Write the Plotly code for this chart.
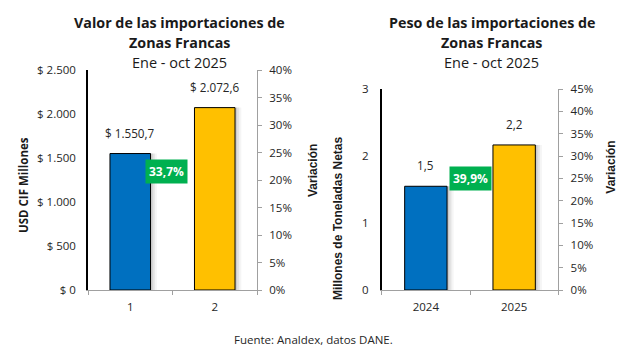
import plotly.graph_objects as go

# ---- data ----
cats_valor = ["1", "2"]
valor_usd = [1550.7, 2072.6]
var_valor = 0.337

cats_peso = ["2024", "2025"]
peso_ton = [1.548, 2.165]
var_peso = 0.399

colors = ["#0070C0", "#FFC000"]
FONT = "Open Sans"
ARIAL = "Liberation Sans, Arial"
W, H = 630, 355
OFF = 8  # page body margin


def px(x):
    return (x - OFF) / W


def py(y):
    return 1 - (y - OFF) / H


def es_num(v, dec):
    s = f"{v:,.{dec}f}"
    return s.replace(",", "X").replace(".", ",").replace("X", ".")


fig = go.Figure()

# shadows + bars
for xa, ya, cats, vals in [("x", "y", cats_valor, valor_usd), ("x2", "y3", cats_peso, peso_ton)]:
    for k, a in enumerate([0.10, 0.07, 0.04]):
        fig.add_trace(go.Bar(x=cats, y=vals, xaxis=xa, yaxis=ya, width=0.48,
                             offset=-0.24 + 0.025 + 0.025 * k,
                             marker=dict(color=f"rgba(0,0,0,{a})", line=dict(width=0)),
                             hoverinfo="skip", showlegend=False))
    fig.add_trace(go.Bar(x=cats, y=vals, xaxis=xa, yaxis=ya, width=0.48, offset=-0.24,
                         marker=dict(color=colors, line=dict(color="#000000", width=1)),
                         showlegend=False))

# invisible traces for secondary axes
fig.add_trace(go.Scatter(x=[cats_valor[1]], y=[var_valor], xaxis="x", yaxis="y2", mode="markers",
                         marker=dict(opacity=0), hoverinfo="skip", showlegend=False))
fig.add_trace(go.Scatter(x=[cats_peso[1]], y=[var_peso], xaxis="x2", yaxis="y4", mode="markers",
                         marker=dict(opacity=0), hoverinfo="skip", showlegend=False))

tick_font = dict(family=FONT, size=11.5, color="#262626")
gray = "#A0A0A0"
common = dict(automargin=False, showgrid=False, fixedrange=True)

fig.update_layout(
    width=W, height=H, margin=dict(l=0, r=0, t=0, b=0, pad=0, autoexpand=False),
    paper_bgcolor="white", plot_bgcolor="white",
    barmode="overlay", separators=",.",
    font=dict(family=FONT, color="#262626"),
    xaxis=dict(domain=[px(88), px(257)], anchor="y", type="category", range=[-0.5, 1.5],
               showline=True, linecolor=gray, linewidth=1, ticks="outside", tickson="boundaries",
               ticklen=4, tickcolor=gray, tickfont=tick_font, ticklabelstandoff=6, **common),
    yaxis=dict(domain=[py(290), py(70)], anchor="x", range=[0, 2500], dtick=500,
               tickprefix="$ ", tickformat=",", showline=True, linecolor="#000000", linewidth=1.5,
               ticks="", tickfont=tick_font, zeroline=False, ticklabelstandoff=8, **common),
    yaxis2=dict(overlaying="y", side="right", anchor="x", range=[0, 0.4], dtick=0.05,
                tickformat=".0%", showline=True, linecolor=gray, ticks="outside", ticklen=4,
                tickcolor=gray, tickfont=tick_font, zeroline=False, ticklabelstandoff=5, **common),
    xaxis2=dict(domain=[px(381.7), px(558.3)], anchor="y3", type="category", range=[-0.5, 1.5],
                showline=True, linecolor=gray, linewidth=1, ticks="outside", tickson="boundaries",
                ticklen=4, tickcolor=gray, tickfont=tick_font, ticklabelstandoff=6, **common),
    yaxis3=dict(domain=[py(290), py(89)], anchor="x2", range=[0, 3], dtick=1,
                showline=True, linecolor="#000000", linewidth=1.5,
                ticks="", tickfont=tick_font, zeroline=False, ticklabelstandoff=9, **common),
    yaxis4=dict(overlaying="y3", side="right", anchor="x2", range=[0, 0.45], dtick=0.05,
                tickformat=".0%", showline=True, linecolor=gray, ticks="outside", ticklen=4,
                tickcolor=gray, tickfont=tick_font, zeroline=False, ticklabelstandoff=5, **common),
)

C = dict(xanchor="center", yanchor="middle", showarrow=False)
ann = []
tfont_b = dict(size=14.3, family=FONT, color="#1a1a1a")
tfont = dict(size=14.5, family=FONT, color="#1a1a1a")
for cx, title in [(180, "Valor de las importaciones de"), (491.7, "Peso de las importaciones de")]:
    ann.append(dict(x=px(cx), y=py(22.5), xref="paper", yref="paper", text=f"<b>{title}</b>", font=tfont_b, **C))
    ann.append(dict(x=px(cx), y=py(43), xref="paper", yref="paper", text="<b>Zonas Francas</b>", font=tfont_b, **C))
    ann.append(dict(x=px(cx), y=py(62.5), xref="paper", yref="paper", text="Ene - oct 2025", font=tfont, **C))

for cx, cy, t, fam, sz in [(23, 185, "USD CIF Millones", FONT, 11.5), (313, 171, "Variación", ARIAL, 12),
                           (338, 219, "Millones de Toneladas Netas", ARIAL, 12), (610.7, 167, "Variación", ARIAL, 12)]:
    ann.append(dict(x=px(cx), y=py(cy), xref="paper", yref="paper", text=f"<b>{t}</b>",
                    textangle=-90, font=dict(size=sz, family=fam, color="#1a1a1a"), **C))

lfont = dict(size=11.7, family=FONT, color="#262626")
for i, v in enumerate(valor_usd):
    ann.append(dict(x=i, y=v, xref="x", yref="y", text="$ " + es_num(v, 1), yshift=21, font=lfont, **C))
for i, v in enumerate(peso_ton):
    ann.append(dict(x=i, y=v, xref="x2", yref="y3", text=es_num(v, 1), yshift=21, font=lfont, **C))

bfont = dict(size=12, family=FONT, color="white")
ann.append(dict(x=0.43, y=1352, xref="x", yref="y", text="<b>" + es_num(var_valor * 100, 1) + "%</b>",
                bgcolor="#00B050", borderpad=3, font=bfont, **C))
ann.append(dict(x=0.506, y=1.657, xref="x2", yref="y3", text="<b>" + es_num(var_peso * 100, 1) + "%</b>",
                bgcolor="#00B050", borderpad=3, font=bfont, **C))

ann.append(dict(x=px(313), y=py(339), xref="paper", yref="paper", text="Fuente: Analdex, datos DANE.",
                font=dict(size=11.5, family=FONT, color="#262626"), **C))

fig.update_layout(annotations=ann)
fig.write_html("out.html")
